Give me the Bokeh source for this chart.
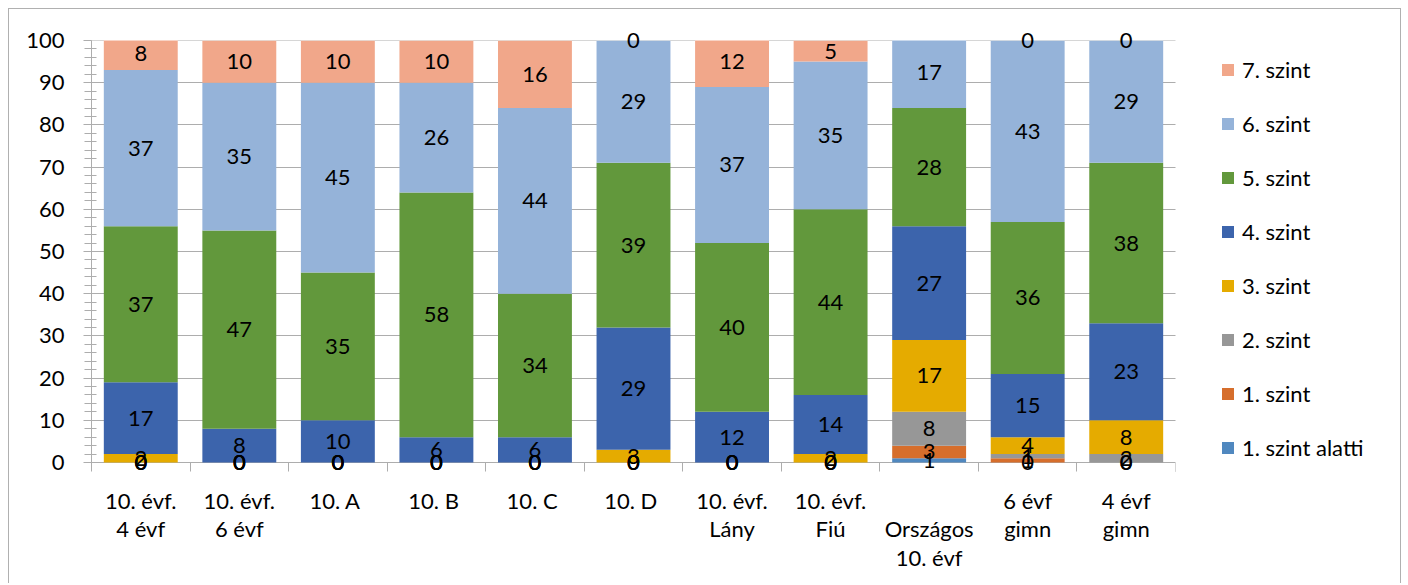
from bokeh.plotting import figure
from bokeh.models import (Range1d, FixedTicker, LinearAxis, Legend, LegendItem,
                          LabelSet, ColumnDataSource, Grid, BoxAnnotation)
from bokeh.embed import file_html
from bokeh.resources import INLINE
from bokeh.core.properties import value

categories = ["10. évf.\n4 évf", "10. évf.\n6 évf", "10.  A", "10.  B", "10.  C",
              "10.  D", "10. évf.\nLány", "10. évf.\nFiú", "\nOrszágos\n10. évf",
              "6 évf\ngimn", "4 évf\ngimn"]

series_names = ["1. szint alatti", "1. szint", "2. szint", "3. szint",
                "4. szint", "5. szint", "6. szint", "7. szint"]
colors = ["#5088BF", "#D66E2C", "#979797", "#E5AB00",
          "#3C64AC", "#62983C", "#95B3D9", "#F1A78A"]

szint_alatti = [0, 0, 0, 0, 0, 0, 0, 0, 1, 0, 0]
szint_1 = [0, 0, 0, 0, 0, 0, 0, 0, 3, 1, 0]
szint_2 = [0, 0, 0, 0, 0, 0, 0, 0, 8, 1, 2]
szint_3 = [2, 0, 0, 0, 0, 3, 0, 2, 17, 4, 8]
szint_4 = [17, 8, 10, 6, 6, 29, 12, 14, 27, 15, 23]
szint_5 = [37, 47, 35, 58, 34, 39, 40, 44, 28, 36, 38]
szint_6 = [37, 35, 45, 26, 44, 29, 37, 35, 17, 43, 29]
szint_7 = [8, 10, 10, 10, 16, 0, 12, 5, 0, 0, 0]

series = [szint_alatti, szint_1, szint_2, szint_3, szint_4, szint_5, szint_6, szint_7]

FONT = "Lato"
FS = "22px"
GRID = "#ADADAD"
BORDER = "1px solid #B0B0B0"
n = len(categories)
xs = [i + 0.5 for i in range(n)]

# layout (pixels)
W, H = 1393, 575
LEFT = 82
PLOT_W = 1084            # width of the category area
Y_MAX = 100
PAD_TOP, PAD_BOT, PLOT_H = 10, 9, 422.5
ppu_y = PLOT_H / Y_MAX
ppu_x = PLOT_W / n
y_start = -PAD_BOT / ppu_y
y_end = Y_MAX + PAD_TOP / ppu_y
x_end = (W - LEFT) / ppu_x   # frame extends under the legend area

p = figure(width=W, height=H, output_backend="svg", toolbar_location=None,
           x_range=Range1d(0, x_end), y_range=Range1d(y_start, y_end),
           x_axis_type=None, y_axis_type=None,
           min_border_left=LEFT, min_border_top=21, min_border_right=0,
           min_border_bottom=113, outline_line_color=None,
           background_fill_color="white", border_fill_color="white")
p.styles = {"margin-left": "8px", "margin-top": "8px",
            "border-top": BORDER, "border-left": BORDER, "border-right": BORDER}

# y axis
yaxis = LinearAxis(ticker=FixedTicker(ticks=list(range(0, 101, 10)),
                                      minor_ticks=list(range(0, 101, 2))),
                   bounds=(0, Y_MAX))
yaxis.axis_line_color = GRID
yaxis.major_tick_line_color = GRID
yaxis.minor_tick_line_color = GRID
yaxis.major_tick_in = 8
yaxis.major_tick_out = 8
yaxis.minor_tick_in = 5
yaxis.minor_tick_out = 7
yaxis.major_label_text_font = FONT
yaxis.major_label_text_font_size = FS
yaxis.major_label_text_color = "black"
yaxis.major_label_standoff = 19
p.add_layout(yaxis, "left")

# x axis (the 0 grid line acts as its line; boundary ticks reach up to it)
xaxis = LinearAxis(ticker=FixedTicker(ticks=xs, minor_ticks=list(range(0, n + 1))))
xaxis.major_label_overrides = {x: c for x, c in zip(xs, categories)}
xaxis.axis_line_color = None
xaxis.major_tick_line_color = None
xaxis.major_tick_in = 0
xaxis.major_tick_out = 0
xaxis.minor_tick_line_color = GRID
xaxis.minor_tick_in = PAD_BOT
xaxis.minor_tick_out = 0
xaxis.major_label_text_font = FONT
xaxis.major_label_text_font_size = FS
xaxis.major_label_text_color = "black"
xaxis.major_label_text_line_height = 1.06
xaxis.major_label_standoff = 15
p.add_layout(xaxis, "below")

p.add_layout(Grid(dimension=1, ticker=yaxis.ticker, grid_line_color=GRID))

# stacked bars
renderers = []
lab_x, lab_y, lab_t = [], [], []
cum = [0] * n
for name, vals, col in zip(series_names, series, colors):
    bottom = list(cum)
    top = [b + v for b, v in zip(bottom, vals)]
    src = ColumnDataSource(dict(x=xs, bottom=bottom, top=top))
    r = p.vbar(x="x", bottom="bottom", top="top", width=0.75, source=src,
               fill_color=col, line_color=None)
    renderers.append((name, r))
    for i in range(n):
        mid = (bottom[i] + top[i]) / 2
        if mid <= Y_MAX:
            lab_x.append(xs[i])
            lab_y.append(mid)
            lab_t.append(str(vals[i]))
    cum = top

# axis maximum: hide whatever stacks beyond 100; blank the legend area
p.add_layout(BoxAnnotation(bottom=Y_MAX, fill_color="white", fill_alpha=1,
                           line_color=None))
p.add_layout(BoxAnnotation(left=n, fill_color="white", fill_alpha=1,
                           line_color=None))

lsrc = ColumnDataSource(dict(x=lab_x, y=lab_y, t=lab_t))
labels = LabelSet(x="x", y="y", text="t", source=lsrc, text_align="center",
                  text_baseline="middle", text_font=value(FONT), text_font_size=value(FS),
                  text_color="black")
p.add_layout(labels)

legend = Legend(items=[LegendItem(label=nm, renderers=[r]) for nm, r in reversed(renderers)],
                location=(1129, 10), orientation="vertical", ncols=1)
legend.label_text_font = FONT
legend.label_text_font_size = FS
legend.label_text_color = "black"
legend.glyph_width = 15
legend.glyph_height = 15
legend.label_standoff = 7
legend.label_height = 26
legend.spacing = 27
legend.padding = 0
legend.margin = 0
legend.border_line_color = None
legend.background_fill_alpha = 0
p.add_layout(legend, "center")

open("out.html", "w").write(file_html(p, INLINE))
